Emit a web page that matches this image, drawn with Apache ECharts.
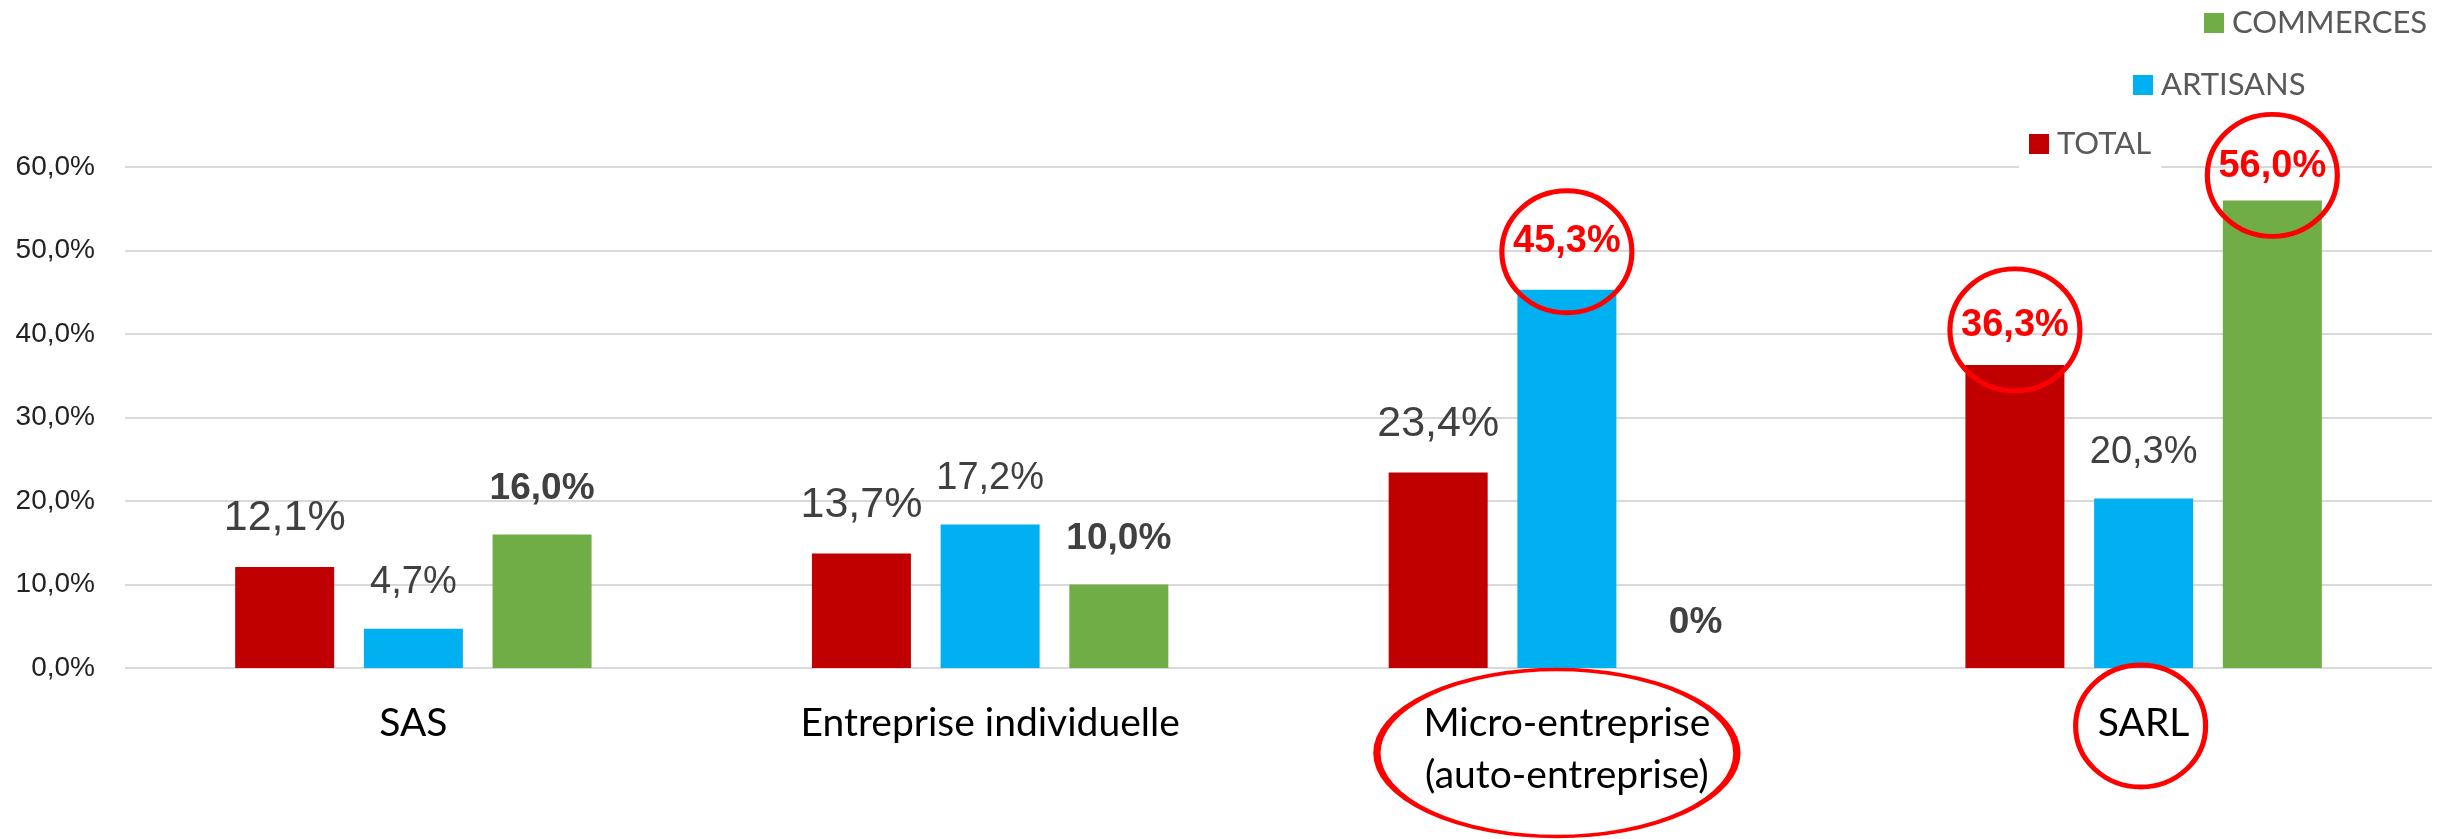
<!DOCTYPE html>
<html>
<head>
<meta charset="utf-8">
<script src="https://cdn.jsdelivr.net/npm/echarts@6/dist/echarts.min.js"></script>
<style>
  html, body { margin: 0; padding: 0; background: #fff; }
  #main { width: 2446px; height: 839px; }
</style>
</head>
<body>
<div id="main"></div>
<script>
// données
const categories = ['SAS', 'Entreprise individuelle', 'Micro-entreprise\n(auto-entreprise)', 'SARL'];
const total = [12.1, 13.7, 23.4, 36.3];
const artisans = [4.7, 17.2, 45.3, 20.3];
const commerces = [16.0, 10.0, 0, 56.0];
const seriesNames = ['TOTAL', 'ARTISANS', 'COMMERCES'];
const yMin = 0, yMax = 60, yStep = 10;
// valeurs entourées en rouge (index de catégorie par série)
const circled = { TOTAL: [3], ARTISANS: [2], COMMERCES: [3] };

const colors = ['#C00000', '#00B0F0', '#70AD47'];
const numFont = "'Liberation Sans', Arial, sans-serif";
const txtFont = "Lato, 'Open Sans', sans-serif";

const fmtPct = (v, digits) => v === 0 ? '0%' : v.toFixed(digits).replace('.', ',') + '%';

const labelStyles = [
  { fontSize: 43, fontWeight: 'normal' },
  { fontSize: 38, fontWeight: 'normal' },
  { fontSize: 37, fontWeight: 'bold' }
];
// cercles rouges : décalage par rapport au haut de la barre, et écart du libellé
const circleOffsets = { TOTAL: -35, ARTISANS: -38, COMMERCES: -25 };
const circleLabelDist = { TOTAL: 20, ARTISANS: 29, COMMERCES: 15 };

const buildSeries = (name, values, idx) => {
  const hl = circled[name] || [];
  const fs = labelStyles[idx].fontSize;
  return {
    name: name,
    type: 'bar',
    barWidth: 99,
    barGap: '30%',
    itemStyle: { color: colors[idx] },
    label: {
      show: true,
      position: 'top',
      distance: 27,
      color: '#404040',
      fontFamily: numFont,
      fontSize: fs,
      lineHeight: fs,
      fontWeight: labelStyles[idx].fontWeight,
      formatter: p => fmtPct(p.value, 1)
    },
    data: values.map((v, i) => hl.indexOf(i) >= 0
      ? { value: v, label: { color: '#ff0000', fontWeight: 'bold', fontSize: 38, lineHeight: 38, distance: circleLabelDist[name] } }
      : v),
    markPoint: {
      silent: true,
      symbol: 'circle',
      symbolSize: [130, 122],
      itemStyle: { color: 'rgba(0,0,0,0)', borderColor: '#ff0000', borderWidth: 5 },
      label: { show: false },
      data: hl.map(i => ({ coord: [i, values[i]], symbolOffset: [0, circleOffsets[name]] }))
    }
  };
};

const series = [
  buildSeries('TOTAL', total, 0),
  buildSeries('ARTISANS', artisans, 1),
  buildSeries('COMMERCES', commerces, 2)
];
// cercles autour des libellés Micro-entreprise et SARL
series[1].markPoint.data.push(
  { coord: [2, 0], symbolSize: [360, 167], symbolOffset: [-10, 85] },
  { coord: [3, 0], symbolSize: [130, 122], symbolOffset: [-3, 58] }
);

const legendBase = {
  orient: 'horizontal',
  icon: 'rect',
  itemWidth: 20,
  itemHeight: 20,
  selectedMode: false,
  textStyle: { fontFamily: txtFont, fontSize: 31, color: '#595959', lineHeight: 34, padding: [0, 0, 0, 3] }
};

const option = {
  animation: false,
  backgroundColor: '#fff',
  color: colors,
  legend: [
    Object.assign({}, legendBase, { data: ['TOTAL'], left: 2019, top: 121, backgroundColor: '#fff', padding: [6, 10, 10, 10] }),
    Object.assign({}, legendBase, { data: ['ARTISANS'], left: 2133, top: 68, padding: 0 }),
    Object.assign({}, legendBase, { data: ['COMMERCES'], left: 2204, top: 6, padding: 0 })
  ],
  grid: { left: 125, right: 14, top: 167, bottom: 171, containLabel: false },
  xAxis: {
    type: 'category',
    data: categories,
    axisLine: { show: false },
    axisTick: { show: false },
    axisLabel: {
      interval: 0,
      margin: 29,
      color: '#000',
      fontFamily: txtFont,
      fontSize: 39,
      lineHeight: 52
    }
  },
  yAxis: {
    type: 'value',
    min: yMin,
    max: yMax,
    interval: yStep,
    axisLine: { show: false },
    axisTick: { show: false },
    splitLine: { lineStyle: { color: '#d9d9d9', width: 2 } },
    axisLabel: {
      margin: 30,
      color: '#222',
      fontFamily: "'Liberation Sans Narrow', 'Arial Narrow', 'Liberation Sans', Arial, sans-serif",
      fontSize: 28,
      formatter: v => fmtPct(v, 1).replace(/^0%$/, '0,0%')
    }
  },
  series: series
};

const chart = echarts.init(document.getElementById('main'));
chart.setOption(option);
window.addEventListener('resize', () => chart.resize());
</script>
</body>
</html>
